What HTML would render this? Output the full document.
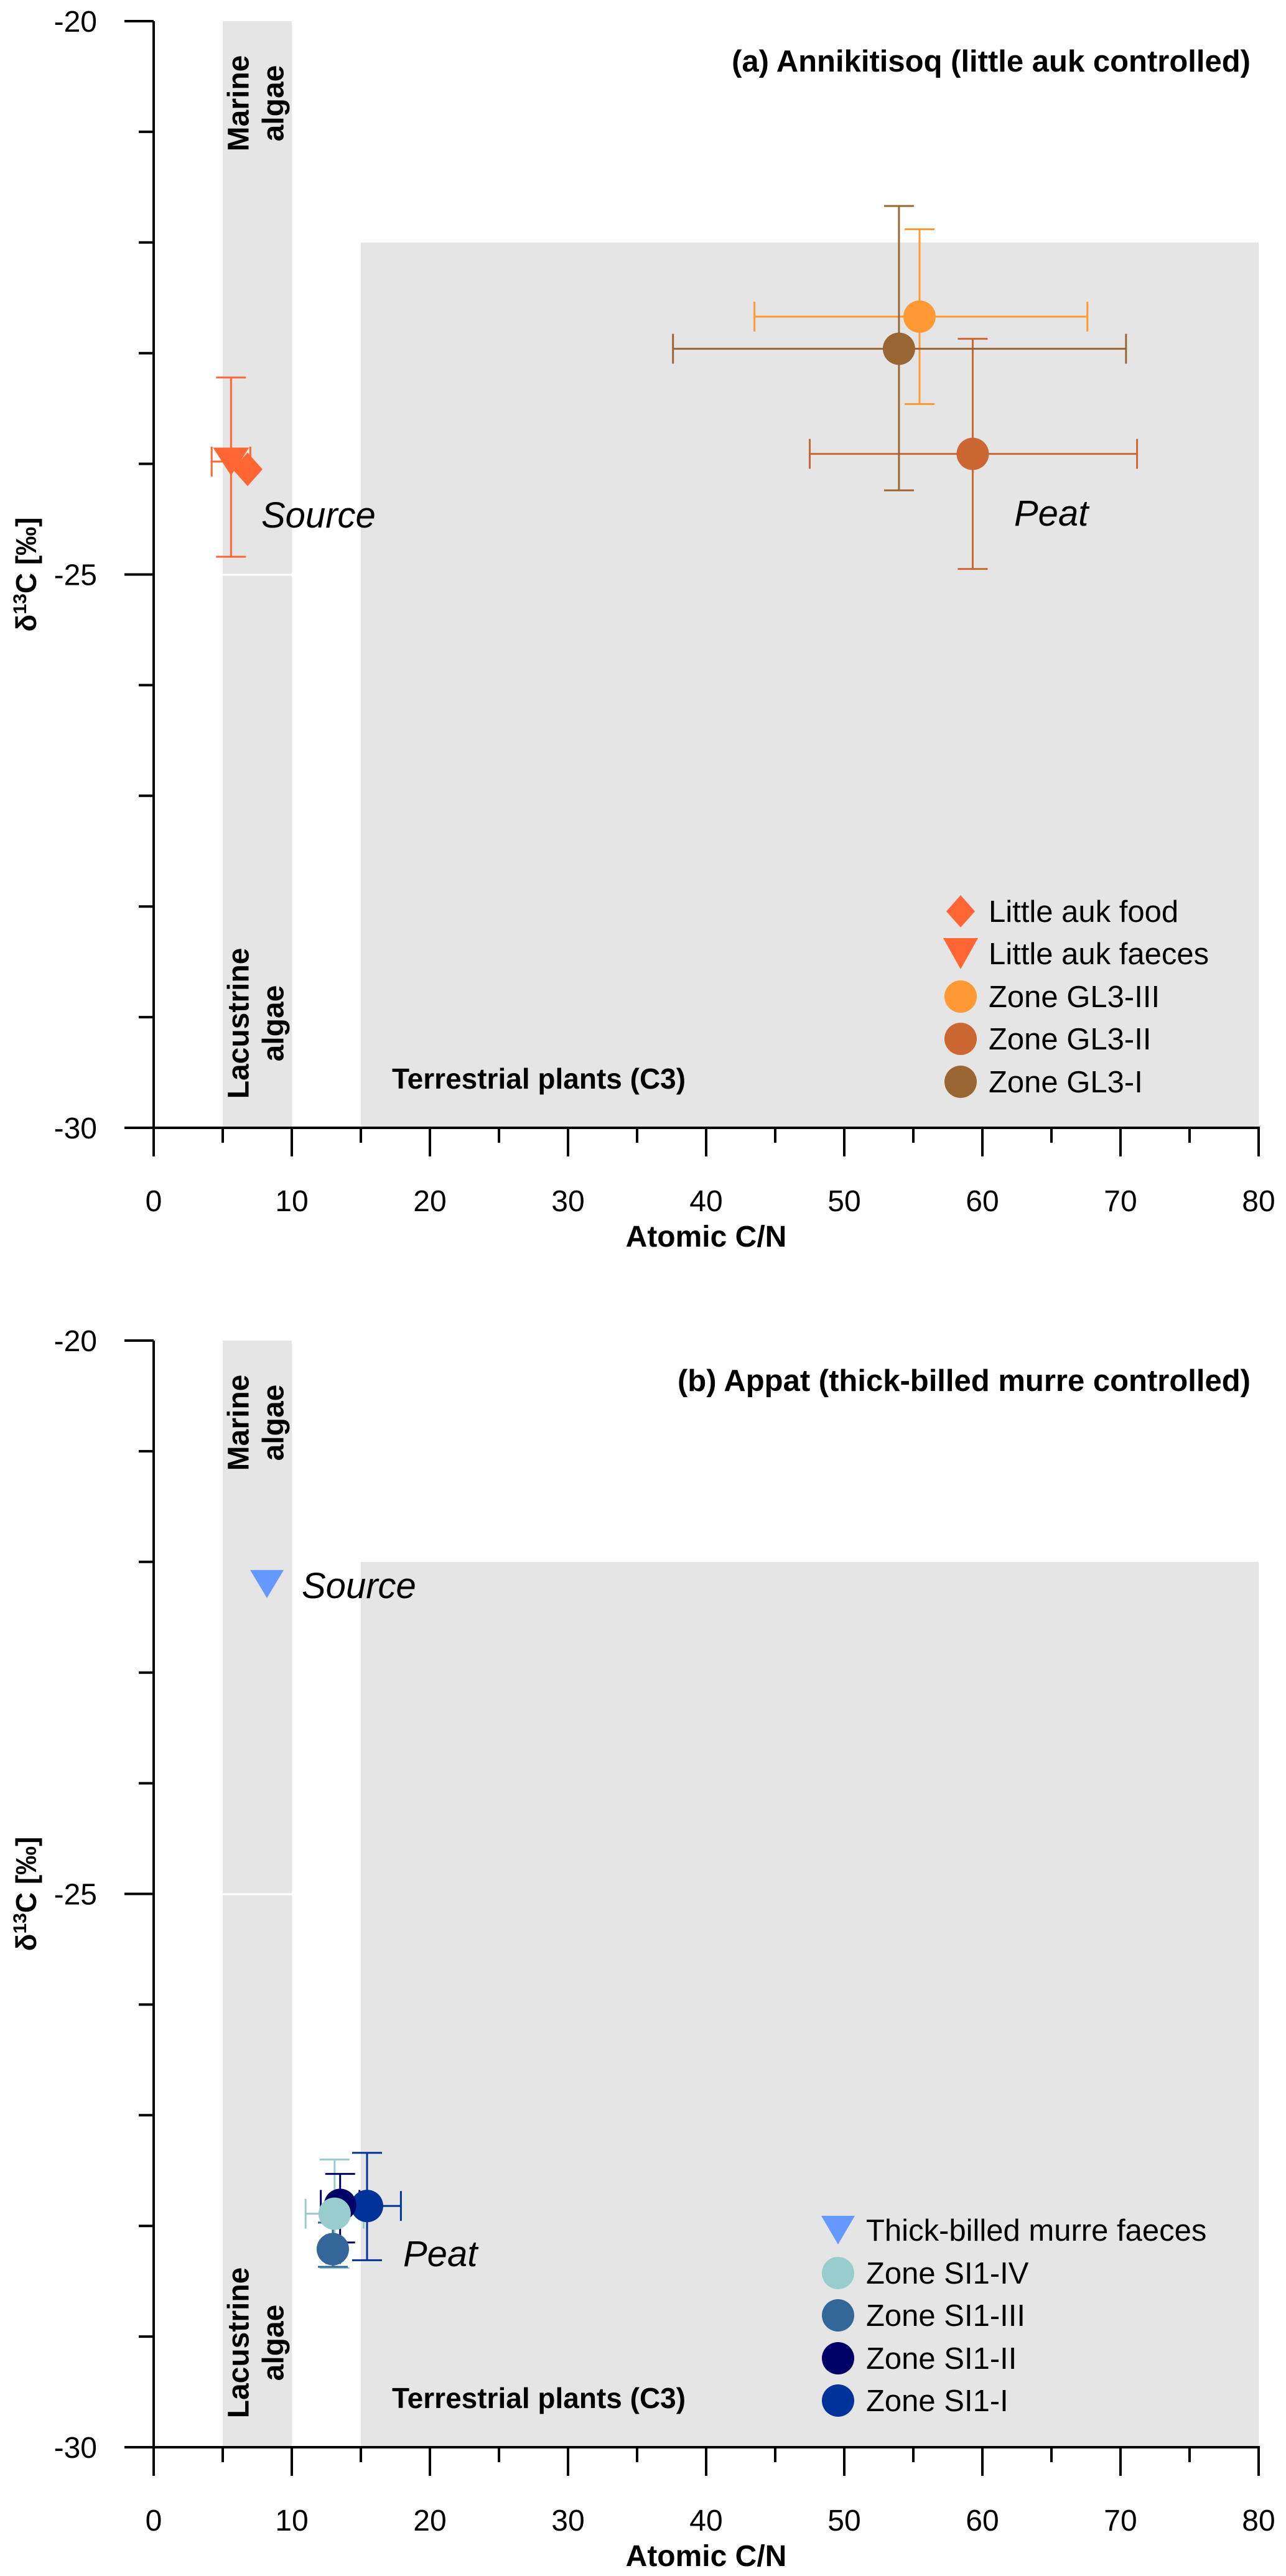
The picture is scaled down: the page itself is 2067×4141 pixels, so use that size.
<!DOCTYPE html>
<html><head><meta charset="utf-8"><style>
html,body{margin:0;padding:0;background:#fff}
svg{display:block}
text{font-family:"Liberation Sans",Arial,sans-serif}
</style></head><body>
<svg id="fig" width="2067" height="4141" viewBox="0 0 2067 4141" xmlns="http://www.w3.org/2000/svg"></svg>
<script>
// ---------- data ----------
const xTicks = [0,10,20,30,40,50,60,70,80];
const yTicks = [-20,-25,-30];
// Panel A
const aNames = ["Zone GL3-III","Zone GL3-II","Zone GL3-I"];
const aColors = ["#ff9933","#cc6633","#996633"];
const aX = [55.45, 59.3, 53.96];
const aY = [-22.67, -23.91, -22.96];
const aXlo = [43.5, 47.5, 37.6];
const aXhi = [67.6, 71.2, 70.4];
const aYlo = [-23.46, -24.95, -24.24];
const aYhi = [-21.88, -22.87, -21.67];
const aFaecesX = [5.6], aFaecesY = [-23.98], aFaecesXerr = [1.4], aFaecesYlo = [-24.84], aFaecesYhi = [-23.22];
const aFoodX = [6.8], aFoodY = [-24.05];
// Panel B
const bNames = ["Zone SI1-IV","Zone SI1-III","Zone SI1-II","Zone SI1-I"];
const bColors = ["#99cccc","#336699","#000066","#003399"];
const bX = [13.1, 12.97, 13.5, 15.45];
const bY = [-27.89, -28.21, -27.81, -27.82];
const bXlo = [11.0, 12.5, 12.1, 13.1];
const bXhi = [15.2, 13.5, 14.9, 17.9];
const bYlo = [-28.38, -28.37, -28.15, -28.31];
const bYhi = [-27.40, -27.97, -27.53, -27.34];
const bFaecesX = [8.2], bFaecesY = [-22.2];

// ---------- helpers ----------
const NS = "http://www.w3.org/2000/svg";
const svg = document.getElementById('fig');
function mk(tag, attrs, parent, txt){
  const e = document.createElementNS(NS, tag);
  for (const k in attrs) e.setAttribute(k, attrs[k]);
  if (txt !== undefined) e.textContent = txt;
  (parent||svg).appendChild(e);
  return e;
}
const X0 = 247, XS = (2023-247)/80;
function sx(v){ return X0 + v*XS; }
function makeY(top){ const ys=(1813-34)/10; return v => top + (-20 - v)*ys; }

function errbar(g, x, y, xlo, xhi, ylo, yhi, col, syf){
  const cap = 24;
  if (xlo !== null){
    mk('line',{x1:sx(xlo),y1:syf(y),x2:sx(xhi),y2:syf(y),stroke:col,'stroke-width':3},g);
    mk('line',{x1:sx(xlo),y1:syf(y)-cap,x2:sx(xlo),y2:syf(y)+cap,stroke:col,'stroke-width':3},g);
    mk('line',{x1:sx(xhi),y1:syf(y)-cap,x2:sx(xhi),y2:syf(y)+cap,stroke:col,'stroke-width':3},g);
  }
  if (ylo !== null){
    mk('line',{x1:sx(x),y1:syf(ylo),x2:sx(x),y2:syf(yhi),stroke:col,'stroke-width':3},g);
    mk('line',{x1:sx(x)-cap,y1:syf(ylo),x2:sx(x)+cap,y2:syf(ylo),stroke:col,'stroke-width':3},g);
    mk('line',{x1:sx(x)-cap,y1:syf(yhi),x2:sx(x)+cap,y2:syf(yhi),stroke:col,'stroke-width':3},g);
  }
}
function tri(cx, cy, w, h, col, parent){
  return mk('polygon',{points:`${cx-w/2},${cy-h/2} ${cx+w/2},${cy-h/2} ${cx},${cy+h/2}`,fill:col},parent);
}
function diamond(cx, cy, w, h, col, parent){
  return mk('polygon',{points:`${cx},${cy-h/2} ${cx+w/2},${cy} ${cx},${cy+h/2} ${cx-w/2},${cy}`,fill:col},parent);
}

function panel(top, name, title){
  const sy = makeY(top);
  const g = mk('g',{});
  
  
  const m = mk('rect',{x:sx(5),y:sy(-20),width:sx(10)-sx(5),height:sy(-25)-sy(-20)-1,fill:'#e5e5e5'},g);
   
  const l = mk('rect',{x:sx(5),y:sy(-25)+2,width:sx(10)-sx(5),height:sy(-30)-sy(-25)-2,fill:'#e5e5e5'},g);
   
  const t = mk('rect',{x:sx(15),y:sy(-22),width:sx(80)-sx(15),height:sy(-30)-sy(-22),fill:'#e5e5e5'},g);
   
  const ml = mk('text',{transform:`translate(${sx(7.5)},${top+132}) rotate(-90)`,'text-anchor':'middle','font-size':48,'font-weight':'bold'},g);
   
  mk('tspan',{x:0,dy:-14},ml,'Marine'); mk('tspan',{x:0,dy:56},ml,'algae');
  const ll = mk('text',{transform:`translate(${sx(7.5)},${sy(-30)-168}) rotate(-90)`,'text-anchor':'middle','font-size':48,'font-weight':'bold'},g);
   
  mk('tspan',{x:0,dy:-14},ll,'Lacustrine'); mk('tspan',{x:0,dy:56},ll,'algae');
  const tl = mk('text',{x:630,y:sy(-30)-63,'font-size':46,'font-weight':'bold'},g,'Terrestrial plants (C3)');
   
  const ax = mk('g',{},g);
   
  mk('line',{x1:X0,y1:sy(-20),x2:X0,y2:sy(-30)+2,stroke:'#000','stroke-width':4},ax);
  for (let v=-20; v>=-30; v--){
    const major = v % 5 === 0;
    mk('line',{x1:major?200:223,y1:sy(v),x2:X0,y2:sy(v),stroke:'#000','stroke-width':4},ax);
  }
  yTicks.forEach(v=>{
    const tt = mk('text',{x:156,y:sy(v)+17,'text-anchor':'end','font-size':48},ax,String(v));
     
  });
  const yt = mk('text',{transform:`translate(58,${sy(-25)}) rotate(-90)`,'text-anchor':'middle','font-size':46,'font-weight':'bold'},ax);
   
  mk('tspan',{},yt,'δ'); mk('tspan',{'font-size':30,dy:-16},yt,'13'); mk('tspan',{dy:16},yt,'C [‰]');
  const bx = mk('g',{},g);
   
  mk('line',{x1:200,y1:sy(-30),x2:sx(80)+2,y2:sy(-30),stroke:'#000','stroke-width':4},bx);
  for (let v=0; v<=80; v+=5){
    const major = v % 10 === 0;
    mk('line',{x1:sx(v),y1:sy(-30),x2:sx(v),y2:sy(-30)+(major?46:24),stroke:'#000','stroke-width':4},bx);
  }
  xTicks.forEach(v=>{
    const tt = mk('text',{x:sx(v),y:sy(-30)+134,'text-anchor':'middle','font-size':48},bx,String(v));
     
  });
  const xt = mk('text',{x:sx(40),y:sy(-30)+191,'text-anchor':'middle','font-size':48,'font-weight':'bold'},bx,'Atomic C/N');
   
  const pt = mk('text',{x:2010,y:top+81,'text-anchor':'end','font-size':49,'font-weight':'bold'},g,title);
   
  return {g, sy};
}

// ---------- Panel A ----------
const A = panel(34, 'panel-a', '(a) Annikitisoq (little auk controlled)');
aFaecesX.forEach((x,i)=>{
  errbar(A.g, x, aFaecesY[i], x-aFaecesXerr[i], x+aFaecesXerr[i], aFaecesYlo[i], aFaecesYhi[i], '#ff6633', A.sy);
});
aFoodX.forEach((x,i)=>{
  const d = diamond(sx(x), A.sy(aFoodY[i]), 48, 54, '#ff6633', A.g);
   
});
aFaecesX.forEach((x,i)=>{
  const t = tri(sx(x), A.sy(aFaecesY[i]), 58, 45, '#ff6633', A.g);
   
});
aX.forEach((x,i)=>errbar(A.g, x, aY[i], aXlo[i], aXhi[i], aYlo[i], aYhi[i], aColors[i], A.sy));
[2,0,1].forEach(i=>{
  const c = mk('circle',{cx:sx(aX[i]),cy:A.sy(aY[i]),r:26,fill:aColors[i]},A.g);
  
  
});
let s = mk('text',{x:420,y:848,'font-size':58,'font-style':'italic'},A.g,'Source');
 
s = mk('text',{x:1630,y:845,'font-size':58,'font-style':'italic'},A.g,'Peat');
 
const legA = mk('g',{},A.g);
 
const legAY = [1465,1533,1602,1670,1739];
const legALabels = ['Little auk food','Little auk faeces'].concat(aNames);
legALabels.forEach((lab,i)=>{
  const row = mk('g',{},legA);
   
  const cy = legAY[i], cx = 1544;
  if (i===0) diamond(cx, cy, 46, 52, '#ff6633', row);
  else if (i===1) tri(cx, cy, 56, 50, '#ff6633', row);
  else mk('circle',{cx:cx,cy:cy,r:26,fill:aColors[i-2]},row);
  mk('text',{x:1589,y:cy+17,'font-size':49},row,lab);
});

// ---------- Panel B ----------
const B = panel(2155, 'panel-b', '(b) Appat (thick-billed murre controlled)');
bFaecesX.forEach((x,i)=>{
  const t = tri(sx(x), B.sy(bFaecesY[i]), 54, 45, '#6699ff', B.g);
   
});
bX.forEach((x,i)=>errbar(B.g, x, bY[i], bXlo[i], bXhi[i], bYlo[i], bYhi[i], bColors[i], B.sy));
[1,3,2,0].forEach(i=>{
  const c = mk('circle',{cx:sx(bX[i]),cy:B.sy(bY[i]),r:26,fill:bColors[i]},B.g);
  
  
});
s = mk('text',{x:485,y:2569,'font-size':58,'font-style':'italic'},B.g,'Source');
 
s = mk('text',{x:648,y:3643,'font-size':58,'font-style':'italic'},B.g,'Peat');
 
const legB = mk('g',{},B.g);
 
const legBY = [3585,3654,3722,3791,3859];
const legBLabels = ['Thick-billed murre faeces'].concat(bNames);
legBLabels.forEach((lab,i)=>{
  const row = mk('g',{},legB);
   
  const cy = legBY[i], cx = 1347;
  if (i===0) tri(cx, cy, 54, 46, '#6699ff', row);
  else mk('circle',{cx:cx,cy:cy,r:26,fill:bColors[i-1]},row);
  mk('text',{x:1392,y:cy+17,'font-size':49},row,lab);
});
</script>
</body></html>
